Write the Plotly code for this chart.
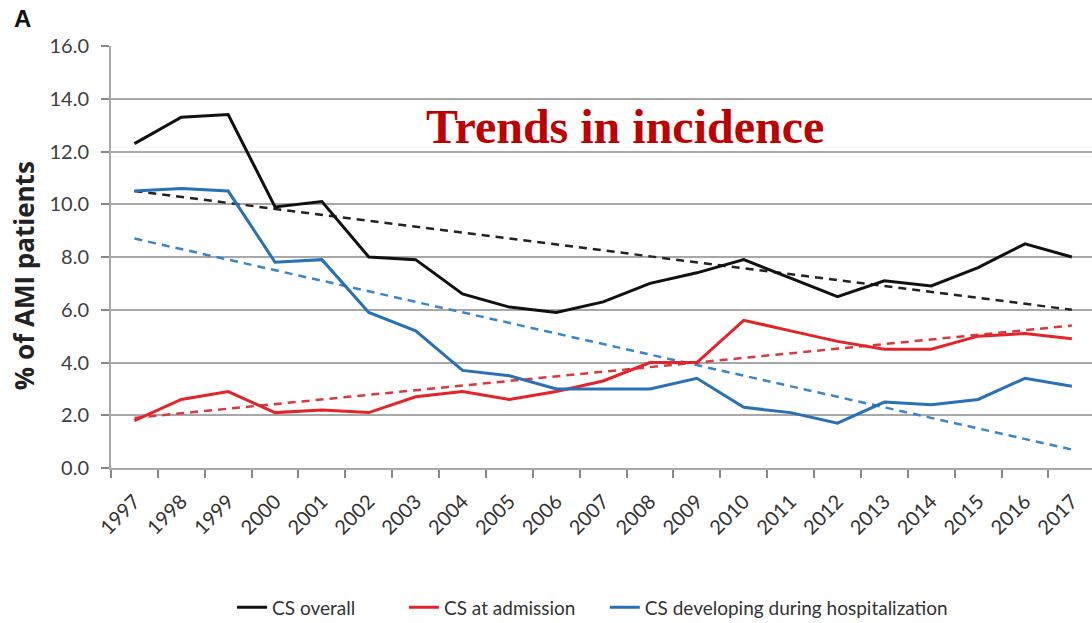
import plotly.graph_objects as go

years = [str(y) for y in range(1997, 2018)]

cs_overall = [12.3, 13.3, 13.4, 9.9, 10.1, 8.0, 7.9, 6.6, 6.1, 5.9, 6.3,
              7.0, 7.4, 7.9, 7.2, 6.5, 7.1, 6.9, 7.6, 8.5, 8.0]
cs_admission = [1.8, 2.6, 2.9, 2.1, 2.2, 2.1, 2.7, 2.9, 2.6, 2.9, 3.3,
                4.0, 4.0, 5.6, 5.2, 4.8, 4.5, 4.5, 5.0, 5.1, 4.9]
cs_hospital = [10.5, 10.6, 10.5, 7.8, 7.9, 5.9, 5.2, 3.7, 3.5, 3.0, 3.0,
               3.0, 3.4, 2.3, 2.1, 1.7, 2.5, 2.4, 2.6, 3.4, 3.1]

# linear trend endpoints (first and last year)
trend_years = ["1997", "2017"]
trend_overall = [10.5, 6.0]
trend_admission = [1.9, 5.4]
trend_hospital = [8.7, 0.7]

NB = "\u00a0"
series = [
    ("CS overall", NB * 9, cs_overall, trend_overall, "#111111", "#222222"),
    ("CS at admission", NB * 5, cs_admission, trend_admission,
     "#e3242b", "#d93a3e"),
    ("CS developing during hospitalization", "", cs_hospital, trend_hospital,
     "#2a70b5", "#3b86c8"),
]

fig = go.Figure()
for name, pad, vals, trend, col, tcol in series:
    fig.add_trace(go.Scatter(
        x=trend_years, y=trend, mode="lines", showlegend=False,
        line=dict(color=tcol, width=2.5, dash="8px,6px"),
        hoverinfo="skip"))
for name, pad, vals, trend, col, tcol in series:
    fig.add_trace(go.Scatter(
        x=years, y=vals, mode="lines", name=name + pad,
        line=dict(color=col, width=3)))

grid = "#a8a8a8"
fig.update_layout(
    width=1092, height=623,
    margin=dict(l=111, r=0, t=46, b=155),
    paper_bgcolor="white", plot_bgcolor="white",
    font=dict(family="Lato, Open Sans, sans-serif", color="#333333"),
    xaxis=dict(
        type="category", categoryorder="array", categoryarray=years,
        range=[-0.5, 20.43],
        tickson="boundaries", ticks="outside", ticklen=8, tickwidth=1.5,
        tickcolor="#888888", tickangle=-45, ticklabelstandoff=12,
        tickfont=dict(size=20, color="#333333"),
        showgrid=False, showline=True, linecolor=grid, linewidth=2,
    ),
    yaxis=dict(
        range=[0, 16], dtick=2, tickformat=".1f",
        ticks="outside", ticklen=8, tickwidth=1.5, tickcolor="#888888",
        tickfont=dict(size=20, color="#404040"), ticklabelstandoff=8,
        showgrid=True, gridcolor=grid, gridwidth=2,
        showline=True, linecolor=grid, linewidth=2, zeroline=False,
    ),
    legend=dict(
        orientation="h", xref="container", yref="container",
        x=0.2125, xanchor="left", y=0.025, yanchor="middle",
        font=dict(size=19, color="#333333"),
        itemwidth=30,
    ),
    annotations=[
        dict(text="<b>% of AMI patients</b>", xref="paper", yref="paper",
             x=-0.0887, y=0.457, xanchor="center", yanchor="middle",
             textangle=-90, showarrow=False,
             font=dict(family="Open Sans, sans-serif", size=26,
                       color="#222222")),
        dict(text="<b>Trends in incidence</b>", xref="paper", yref="paper",
             x=0.524, y=0.81, xanchor="center", yanchor="middle",
             showarrow=False,
             font=dict(family="Liberation Serif, Times New Roman, serif",
                       size=48, color="#c00000")),
        dict(text="<b>A</b>", xref="paper", yref="paper",
             x=-0.0907, y=1.066, xanchor="center", yanchor="middle",
             showarrow=False,
             font=dict(family="Liberation Sans, Arial, sans-serif",
                       size=24, color="#111111")),
    ],
)

fig.write_html("out.html")
